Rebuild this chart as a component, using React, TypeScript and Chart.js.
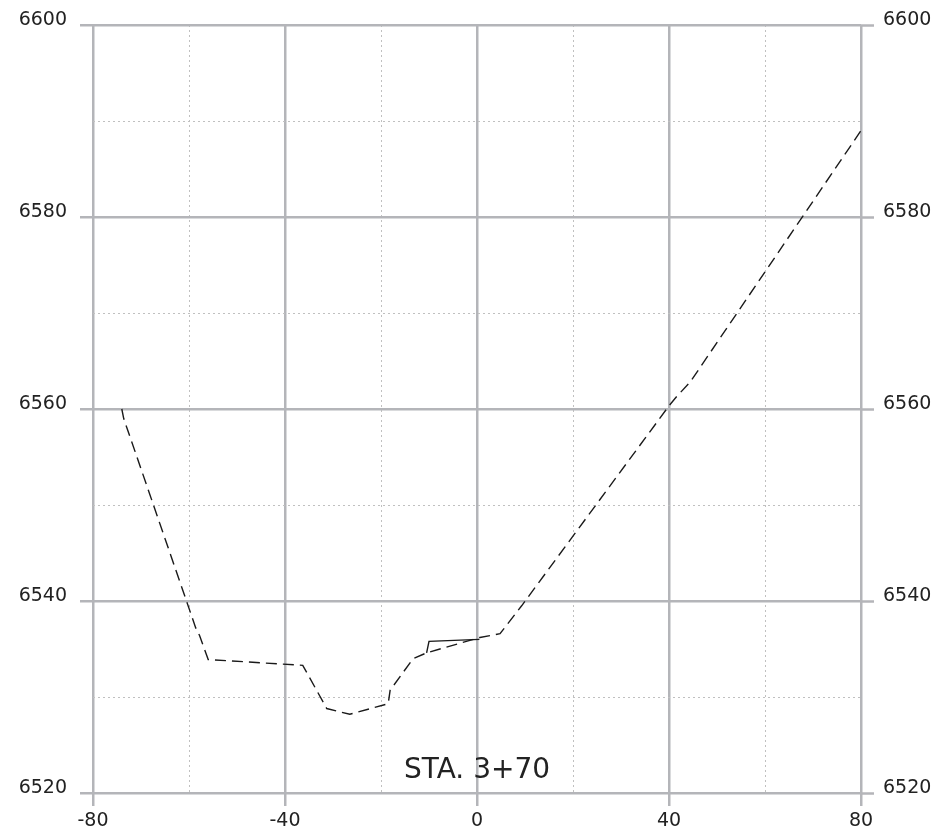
import React, { useEffect, useRef } from "react";
import { Chart, registerables } from "chart.js";

Chart.register(...registerables);

// Cross-section: offset (ft) vs elevation (ft)
const groundOffsets = [-74, -73.6, -58.6, -57.8, -56.0, -36.3, -31.3, -26.5, -18.5, -18.1, -13.3, -10.5, 0.6, 4.8, 9.3, 40.1, 41.6, 44.4, 80];
const groundElevations = [6560, 6559, 6537.2, 6536.4, 6533.9, 6533.3, 6528.8, 6528.2, 6529.3, 6530.7, 6534.0, 6534.6, 6536.2, 6536.6, 6539.5, 6560.4, 6561.3, 6562.8, 6589];

const channelOffsets = [-10.5, -10.0, 0.5];
const channelElevations = [6534.6, 6535.8, 6536.0];

const xMin = -80;
const xMax = 80;
const xMinorStep = 20;
const xMajorStep = 40;
const yMin = 6520;
const yMax = 6600;
const yMinorStep = 10;
const yMajorStep = 20;

const stationLabel = "STA. 3+70";

const MAJOR = "#b4b5b9";
const MINOR = "#c0c0c0";
const TEXT = "#222222";
const FONT = "'DejaVu Sans', sans-serif";

const isMajor = (v: number, step: number) => Math.abs(Math.round(v / step) * step - v) < 1e-6;

export default function App() {
  const ref = useRef<HTMLCanvasElement | null>(null);

  useEffect(() => {
    document.body.style.margin = "0";
    const canvas = ref.current;
    if (!canvas) return;

    const ground = groundOffsets.map((x, i) => ({ x, y: groundElevations[i] }));
    const channel = channelOffsets.map((x, i) => ({ x, y: channelElevations[i] }));

    const gridFor = (step: number) => ({
      color: (c: any) => (isMajor(c.tick?.value ?? 0, step) ? MAJOR : MINOR),
      lineWidth: (c: any) => (isMajor(c.tick?.value ?? 0, step) ? 2.5 : 1),
      tickColor: (c: any) => (isMajor(c.tick?.value ?? 0, step) ? MAJOR : "rgba(0,0,0,0)"),
      tickWidth: 2.5,
      tickLength: 13,
    });
    const borderFor = (step: number) => ({
      display: false,
      dash: (c: any) => (isMajor(c.tick?.value ?? 0, step) ? [] : [2, 3]),
    });

    const stationPlugin = {
      id: "stationLabel",
      afterDatasetsDraw(chart: any) {
        const { ctx, scales } = chart;
        const xs = scales.x;
        const ys = scales.y;
        ctx.save();
        ctx.fillStyle = TEXT;
        ctx.font = `28px ${FONT}`;
        ctx.textAlign = "center";
        ctx.textBaseline = "alphabetic";
        ctx.fillText(stationLabel, xs.getPixelForValue(0), ys.bottom - 15);
        ctx.restore();
      },
    };

    const chart = new Chart(canvas, {
      type: "line",
      data: {
        datasets: [
          {
            label: "Ground",
            data: ground,
            borderColor: "#1a1a1a",
            borderWidth: 1.4,
            borderDash: [11, 6],
            pointRadius: 0,
            tension: 0,
            fill: false,
          },
          {
            label: "Channel",
            data: channel,
            borderColor: "#1a1a1a",
            borderWidth: 1.4,
            pointRadius: 0,
            tension: 0,
            fill: false,
          },
        ],
      },
      options: {
        responsive: false,
        animation: false,
        layout: { padding: { top: 25, left: 0, right: 0, bottom: 0 } },
        plugins: {
          legend: { display: false },
          tooltip: { enabled: false },
          title: { display: false },
        },
        scales: {
          x: {
            type: "linear",
            position: "bottom",
            min: xMin,
            max: xMax,
            afterFit: (s: any) => {
              s.height = 41;
            },
            ticks: {
              stepSize: xMinorStep,
              autoSkip: false,
              maxRotation: 0,
              color: TEXT,
              font: { family: FONT, size: 19 },
              padding: 4,
              callback: (v: any) => (isMajor(Number(v), xMajorStep) ? String(v) : ""),
            },
            grid: gridFor(xMajorStep) as any,
            border: borderFor(xMajorStep) as any,
          },
          y: {
            type: "linear",
            position: "left",
            min: yMin,
            max: yMax,
            afterFit: (s: any) => {
              s.width = 93;
            },
            ticks: {
              stepSize: yMinorStep,
              autoSkip: false,
              color: TEXT,
              font: { family: FONT, size: 19 },
              padding: 13,
              labelOffset: -5,
              callback: (v: any) => (isMajor(Number(v), yMajorStep) ? String(v) : ""),
            },
            grid: gridFor(yMajorStep) as any,
            border: borderFor(yMajorStep) as any,
          },
          y2: {
            type: "linear",
            position: "right",
            min: yMin,
            max: yMax,
            afterFit: (s: any) => {
              s.width = 80;
            },
            ticks: {
              stepSize: yMinorStep,
              autoSkip: false,
              color: TEXT,
              font: { family: FONT, size: 19 },
              padding: 9,
              labelOffset: -5,
              callback: (v: any) => (isMajor(Number(v), yMajorStep) ? String(v) : ""),
            },
            grid: {
              drawOnChartArea: false,
              tickColor: (c: any) => (isMajor(c.tick?.value ?? 0, yMajorStep) ? MAJOR : "rgba(0,0,0,0)"),
              tickWidth: 2.5,
              tickLength: 13,
            } as any,
            border: { display: false },
          },
        },
      },
      plugins: [stationPlugin],
    });

    return () => chart.destroy();
  }, []);

  return (
    <div style={{ width: 941, height: 834, background: "#ffffff" }}>
      <canvas ref={ref} width={941} height={834} style={{ display: "block" }} />
    </div>
  );
}
